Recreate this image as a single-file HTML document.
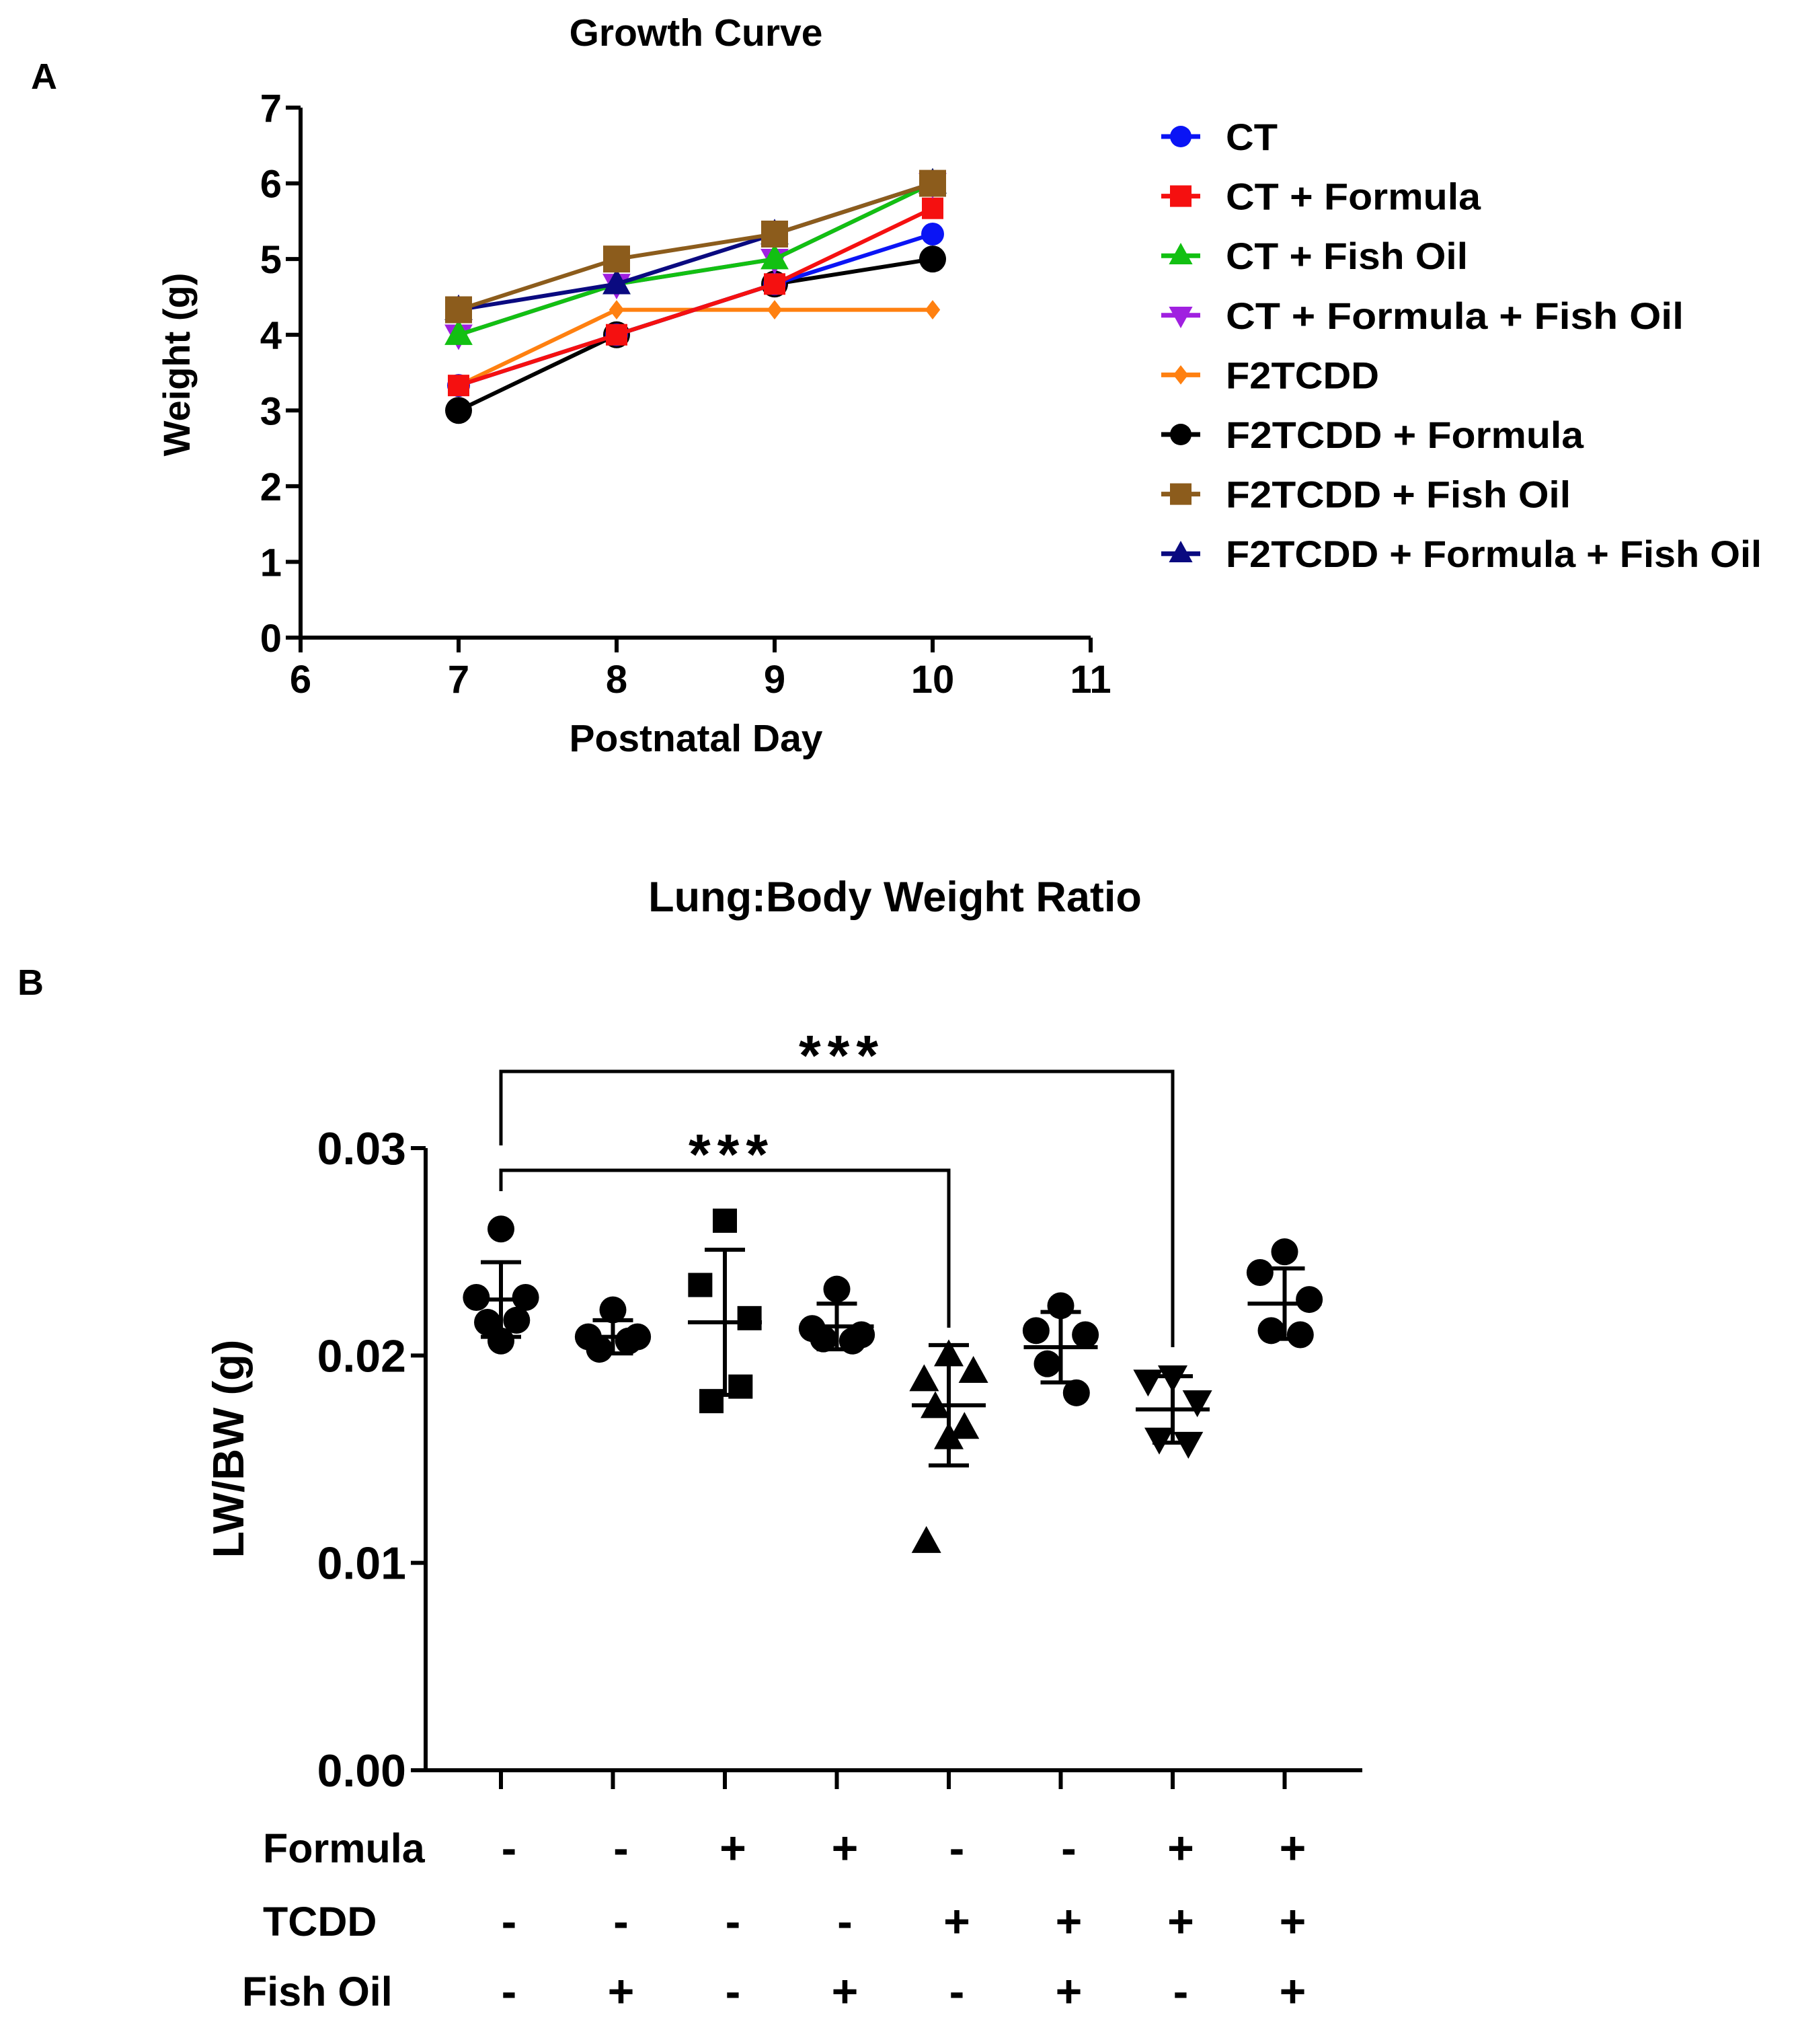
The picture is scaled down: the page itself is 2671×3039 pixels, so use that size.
<!DOCTYPE html>
<html><head><meta charset="utf-8"><style>
html,body{margin:0;padding:0;background:#fff;}
svg{display:block;font-family:"Liberation Sans",Arial,sans-serif;font-weight:bold;}
</style></head><body>
<svg id="fig" width="2671" height="3039" viewBox="0 0 2671 3039" xmlns="http://www.w3.org/2000/svg">
<g id="pa"></g>
<g id="pb"></g>
</svg>
<script>
// ---------- Panel A data ----------
const daysA = [7, 8, 9, 10];
const xTicksA = [6, 7, 8, 9, 10, 11];
const yTicksA = [0, 1, 2, 3, 4, 5, 6, 7];
const seriesNamesA = ["CT", "CT +  Formula", "CT +  Fish Oil", "CT +  Formula  +  Fish Oil", "F2TCDD", "F2TCDD +  Formula", "F2TCDD +  Fish Oil", "F2TCDD + Formula +  Fish Oil"];
const ctVals = [3.33, 4.0, 4.67, 5.33];
const ctFormulaVals = [3.33, 4.0, 4.67, 5.67];
const ctFishVals = [4.0, 4.67, 5.0, 6.0];
const ctFormulaFishVals = [4.0, 4.67, 5.0, 6.0];
const tcddVals = [3.33, 4.33, 4.33, 4.33];
const tcddFormulaVals = [3.0, 4.0, 4.67, 5.0];
const tcddFishVals = [4.33, 5.0, 5.33, 6.0];
const tcddFormulaFishVals = [4.33, 4.67, 5.33, 6.0];

// ---------- Panel B data ----------
const groupsB = ["CT", "CT+FO", "CT+F", "CT+F+FO", "TCDD", "TCDD+FO", "TCDD+F", "TCDD+F+FO"];
const pointsB = [
  [0.0261, 0.0228, 0.0228, 0.0216, 0.0217, 0.0207],
  [0.0222, 0.0209, 0.0209, 0.0203, 0.0207],
  [0.0265, 0.0234, 0.0218, 0.0178, 0.0185],
  [0.0232, 0.0213, 0.0210, 0.0208, 0.0207],
  [0.0200, 0.0188, 0.0192, 0.0175, 0.0165, 0.0160, 0.0110],
  [0.0224, 0.0212, 0.0210, 0.0196, 0.0182],
  [0.0190, 0.0188, 0.0178, 0.0160, 0.0158],
  [0.0250, 0.0240, 0.0227, 0.0212, 0.0210]
];
const meansB = [0.0227, 0.0209, 0.0216, 0.0214, 0.0176, 0.0204, 0.0174, 0.0225];
const sdB = [0.0018, 0.0008, 0.0035, 0.0011, 0.0029, 0.0017, 0.0016, 0.0017];
const yTicksB = [0, 0.01, 0.02, 0.03];
const yTickLabelsB = ["0.00", "0.01", "0.02", "0.03"];
const formulaRow = ["-", "-", "+", "+", "-", "-", "+", "+"];
const tcddRow = ["-", "-", "-", "-", "+", "+", "+", "+"];
const fishRow = ["-", "+", "-", "+", "-", "+", "-", "+"];

const NS = "http://www.w3.org/2000/svg";
function mk(parent, tag, attrs, text) {
  const e = document.createElementNS(NS, tag);
  for (const k in attrs) e.setAttribute(k, attrs[k]);
  if (text !== undefined) e.textContent = text;
  parent.appendChild(e);
  return e;
}

// ===== Panel A =====
const pa = document.getElementById("pa");
const ax = v => 447 + (v - 6) * (1622 - 447) / 5;
const ay = v => 948 - v * (948 - 160) / 7;

let t = mk(pa, "text", {x: 1035, y: 68, "font-size": 57, "text-anchor": "middle"}, "Growth Curve");


t = mk(pa, "text", {x: 46, y: 132, "font-size": 54}, "A");



let axA = mk(pa, "path", {d: `M${ax(6)},${ay(7)} V${ay(0)} H${ax(11)}`, stroke: "#000", "stroke-width": 6, fill: "none"});


yTicksA.forEach(v => {
  const l = mk(pa, "line", {x1: ax(6) - 22, x2: ax(6), y1: ay(v), y2: ay(v), stroke: "#000", "stroke-width": 6});
  
  
  const tx = mk(pa, "text", {x: ax(6) - 28, y: ay(v) + 21, "font-size": 58, "text-anchor": "end"}, String(v));
  
  
});
xTicksA.forEach(v => {
  const l = mk(pa, "line", {x1: ax(v), x2: ax(v), y1: ay(0), y2: ay(0) + 22, stroke: "#000", "stroke-width": 6});
  
  
  const tx = mk(pa, "text", {x: ax(v), y: ay(0) + 82, "font-size": 58, "text-anchor": "middle"}, String(v));
  
  
});
t = mk(pa, "text", {x: 0, y: 0, "font-size": 56, "text-anchor": "middle", transform: "translate(282,542) rotate(-90)"}, "Weight (g)");


t = mk(pa, "text", {x: 1035, y: 1117, "font-size": 57, "text-anchor": "middle"}, "Postnatal Day");



function marker(g, shape, x, y, s, color) {
  let e;
  if (shape === "circle") e = mk(g, "circle", {cx: x, cy: y, r: s / 2, fill: color});
  else if (shape === "square") e = mk(g, "rect", {x: x - s / 2, y: y - s / 2, width: s, height: s, fill: color});
  else if (shape === "tri") e = mk(g, "polygon", {points: `${x},${y - s * 0.6} ${x - s * 0.55},${y + s * 0.4} ${x + s * 0.55},${y + s * 0.4}`, fill: color});
  else if (shape === "dtri") e = mk(g, "polygon", {points: `${x},${y + s * 0.6} ${x - s * 0.55},${y - s * 0.4} ${x + s * 0.55},${y - s * 0.4}`, fill: color});
  else e = mk(g, "polygon", {points: `${x},${y - s * 0.45} ${x + s * 0.35},${y} ${x},${y + s * 0.45} ${x - s * 0.35},${y}`, fill: color});
  return e;
}

const seriesA = [ctVals, ctFormulaVals, ctFishVals, ctFormulaFishVals, tcddVals, tcddFormulaVals, tcddFishVals, tcddFormulaFishVals];
const colorsA = ["#0a14f5", "#f51010", "#12c012", "#a020e0", "#ff8010", "#000000", "#8c5c1c", "#0a0a80"];
const shapesA = ["circle", "square", "tri", "dtri", "diamond", "circle", "square", "tri"];
const sizesA = [34, 32, 38, 38, 32, 40, 40, 38];
const drawOrder = [4, 5, 0, 1, 3, 2, 7, 6];
drawOrder.forEach(i => {
  const g = mk(pa, "g", {});
  
  
  const vals = seriesA[i];
  const pl = mk(g, "polyline", {points: vals.map((v, k) => ax(daysA[k]) + "," + ay(v)).join(" "), stroke: colorsA[i], "stroke-width": 6, fill: "none"});
  
  
  vals.forEach((v, k) => {
    const m = marker(g, shapesA[i], ax(daysA[k]), ay(v), sizesA[i], colorsA[i]);
    
    
  });
});

const legendLens = [77, 379, 360, 681, 228, 532, 513, 797];
seriesNamesA.forEach((name, i) => {
  const y = 203 + i * 88.6;
  const g = mk(pa, "g", {});
  
  
  mk(g, "line", {x1: 1727, x2: 1785, y1: y, y2: y, stroke: colorsA[i], "stroke-width": 7});
  marker(g, shapesA[i], 1756, y, 32, colorsA[i]);
  mk(g, "text", {x: 1823, y: y + 20, "font-size": 56, textLength: legendLens[i], lengthAdjust: "spacingAndGlyphs"}, name);
});

// ===== Panel B =====
const pb = document.getElementById("pb");
const bx = i => 745 + i * 166.5;
const by = v => 2632 - v * (2632 - 1707) / 0.03;

t = mk(pb, "text", {x: 1331, y: 1355, "font-size": 63, "text-anchor": "middle"}, "Lung:Body Weight Ratio");


t = mk(pb, "text", {x: 26, y: 1479, "font-size": 54}, "B");



let axB = mk(pb, "path", {d: `M633,${by(0.03)} V${by(0)} H2026`, stroke: "#000", "stroke-width": 6, fill: "none"});


yTicksB.forEach((v, i) => {
  const l = mk(pb, "line", {x1: 611, x2: 633, y1: by(v), y2: by(v), stroke: "#000", "stroke-width": 6});
  
  
  const tx = mk(pb, "text", {x: 604, y: by(v) + 24, "font-size": 68, "text-anchor": "end"}, yTickLabelsB[i]);
  
  
});
t = mk(pb, "text", {x: 0, y: 0, "font-size": 65, "text-anchor": "middle", transform: "translate(362,2154) rotate(-90)"}, "LW/BW (g)");



const jit = [0, -0.22, 0.22, -0.12, 0.14, 0, -0.2, 0.2];
const shapesB = ["circle", "circle", "square", "circle", "tri", "circle", "dtri", "circle"];
groupsB.forEach((name, i) => {
  const cx = bx(i);
  const l = mk(pb, "line", {x1: cx, x2: cx, y1: by(0), y2: by(0) + 28, stroke: "#000", "stroke-width": 6});
  
  
  const g = mk(pb, "g", {});
  
  
  pointsB[i].forEach((v, k) => {
    const off = jit[k % jit.length] * 166.5;
    const m = marker(g, shapesB[i], cx + off, by(v), shapesB[i] === "square" ? 36 : 40, "#000");
    
    
  });
  const m = meansB[i], s = sdB[i];
  const eb = mk(g, "path", {d: `M${cx - 55},${by(m)} H${cx + 55} M${cx},${by(m + s)} V${by(m - s)} M${cx - 30},${by(m + s)} H${cx + 30} M${cx - 30},${by(m - s)} H${cx + 30}`, stroke: "#000", "stroke-width": 6, fill: "none"});
  
  
});

// significance brackets
let br = mk(pb, "path", {d: `M${bx(0)},1703 V1593 H${bx(6)} V2003`, stroke: "#000", "stroke-width": 5, fill: "none"});


t = mk(pb, "text", {x: 1252, y: 1598, "font-size": 84, "text-anchor": "middle", "letter-spacing": "10"}, "***");


br = mk(pb, "path", {d: `M${bx(0)},1771 V1740 H${bx(4)} V1974`, stroke: "#000", "stroke-width": 5, fill: "none"});


t = mk(pb, "text", {x: 1088, y: 1745, "font-size": 84, "text-anchor": "middle", "letter-spacing": "10"}, "***");



// treatment table
const rows = [["Formula", formulaRow, 2748, 391], ["TCDD", tcddRow, 2857, 391], ["Fish Oil", fishRow, 2961, 360]];
rows.forEach(([label, vals, y, lx]) => {
  const lt = mk(pb, "text", {x: lx, y: y + 21, "font-size": 61}, label);
  
  
  vals.forEach((s, i) => {
    const st = mk(pb, "text", {x: bx(i) + 12, y: y + 23, "font-size": 68, "text-anchor": "middle"}, s);
    
    
  });
});
</script>
</body></html>
